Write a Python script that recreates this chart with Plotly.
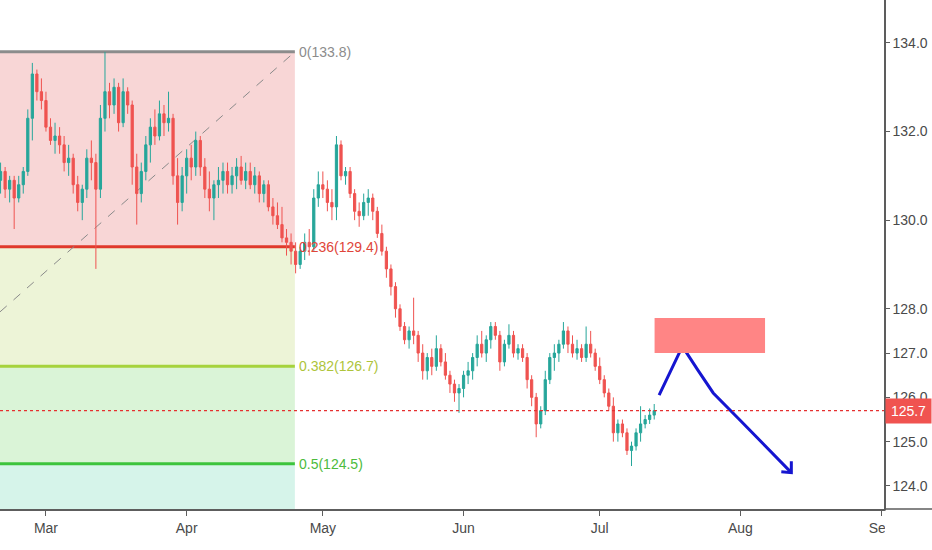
import pandas as pd
import plotly.graph_objects as go

# velas diarias
open_ = [130.9, 131.1, 130.7, 130.9, 130.5, 130.8, 131.1, 132.3, 133.3, 132.9,
         132.7, 132.1, 131.8, 131.9, 131.7, 131.3, 131.4, 130.8, 130.4, 130.7,
         131.4, 131.3, 130.7, 132.3, 132.9, 132.6, 133.0, 132.2, 132.9, 132.6,
         131.2, 130.6, 131.1, 131.7, 132.1, 131.9, 132.4, 132.2, 132.3, 131.0,
         130.4, 131.0, 131.4, 131.2, 131.8, 131.2, 130.7, 130.5, 130.8, 130.9,
         131.1, 130.8, 131.0, 131.2, 130.9, 131.1, 130.8, 131.0, 130.6, 130.8,
         130.3, 130.1, 129.9, 129.6, 129.5, 129.3, 129.0, 129.3, 129.5, 129.4,
         130.5, 130.8, 130.7, 130.4, 130.3, 131.7, 131.0, 131.1, 130.6, 130.2,
         130.1, 130.4, 130.5, 130.2, 129.7, 129.3, 128.9, 128.5, 128.0, 127.6,
         127.3, 127.5, 127.4, 127.0, 126.6, 126.9, 126.7, 127.1, 126.8, 126.5,
         126.3, 126.1, 126.2, 126.5, 126.6, 126.9, 127.2, 127.0, 127.3, 127.6,
         127.4, 126.8, 127.2, 127.4, 127.0, 127.1, 126.9, 126.4, 126.0, 125.4,
         125.7, 126.4, 126.9, 127.0, 127.2, 127.5, 127.2, 127.0, 127.1, 126.9,
         127.2, 127.0, 126.7, 126.4, 126.1, 125.8, 125.2, 125.4, 125.2, 124.8,
         124.9, 125.2, 125.4, 125.5, 125.6]
high = [131.3, 131.2, 131.0, 131.0, 131.0, 131.2, 132.5, 133.55, 133.4, 133.2,
        132.9, 132.3, 132.2, 132.1, 131.9, 131.7, 131.5, 131.0, 130.8, 131.6,
        131.8, 131.5, 132.6, 133.8, 133.1, 133.2, 133.1, 133.2, 133.0, 132.7,
        131.5, 131.3, 131.9, 132.3, 132.5, 132.7, 132.6, 132.9, 132.4, 131.4,
        131.2, 131.6, 131.7, 132.0, 131.9, 131.4, 131.1, 130.9, 131.2, 131.3,
        131.3, 131.2, 131.4, 131.45, 131.3, 131.3, 131.2, 131.1, 130.9, 130.9,
        130.5, 130.4, 130.3, 129.8, 129.7, 129.5, 129.4, 129.7, 129.8, 130.7,
        131.1, 131.1, 130.9, 130.7, 131.9, 131.8, 131.2, 131.2, 130.7, 130.4,
        130.6, 130.7, 130.6, 130.3, 129.9, 129.4, 129.0, 128.6, 128.1, 127.7,
        127.6, 128.25, 127.5, 127.2, 127.0, 127.1, 127.4, 127.2, 127.0, 126.6,
        126.4, 126.3, 126.6, 126.8, 127.0, 127.4, 127.5, 127.4, 127.7, 127.7,
        127.5, 127.3, 127.65, 127.5, 127.2, 127.2, 127.0, 126.5, 126.1, 125.8,
        126.6, 127.0, 127.2, 127.3, 127.7, 127.6, 127.4, 127.3, 127.2, 127.6,
        127.5, 127.1, 126.9, 126.5, 126.2, 126.0, 125.5, 125.5, 125.3, 125.0,
        125.3, 125.8, 125.6, 125.75, 125.85]
low = [130.6, 130.5, 130.4, 129.8, 130.4, 130.6, 131.0, 131.8, 132.7, 132.5,
       132.0, 131.7, 131.5, 131.5, 131.1, 131.0, 130.6, 130.2, 130.0, 130.5,
       130.9, 128.9, 130.5, 132.0, 132.3, 132.4, 132.0, 132.1, 132.4, 130.8,
       129.9, 130.4, 130.9, 131.3, 131.7, 131.8, 131.9, 132.0, 130.8, 129.9,
       130.2, 130.6, 130.9, 131.0, 131.0, 130.5, 130.2, 130.0, 130.5, 130.6,
       130.6, 130.6, 130.7, 130.8, 130.7, 130.7, 130.6, 130.4, 130.4, 130.2,
       129.9, 129.8, 129.5, 129.2, 129.0, 128.8, 128.9, 129.1, 129.2, 129.3,
       130.3, 130.5, 130.2, 130.0, 130.0, 130.9, 130.8, 130.5, 130.0, 129.85,
       130.0, 130.1, 130.0, 129.6, 129.2, 128.7, 128.3, 127.8, 127.5, 127.2,
       127.1, 127.2, 126.8, 126.4, 126.4, 126.5, 126.6, 126.7, 126.4, 126.1,
       125.9, 125.65, 126.0, 126.3, 126.4, 126.7, 126.9, 126.8, 127.1, 127.3,
       126.6, 126.7, 127.1, 126.9, 126.85, 126.8, 126.2, 125.8, 125.1, 125.3,
       125.6, 126.3, 126.6, 126.8, 127.1, 127.0, 126.9, 126.85, 126.8, 126.8,
       126.9, 126.6, 126.3, 126.0, 125.7, 125.0, 125.0, 125.1, 124.7, 124.45,
       124.8, 125.0, 125.3, 125.4, 125.5]
close = [131.1, 130.7, 130.9, 130.5, 130.8, 131.1, 132.3, 133.3, 132.9, 132.7,
         132.1, 131.8, 131.9, 131.7, 131.3, 131.4, 130.8, 130.4, 130.7, 131.4,
         131.3, 130.7, 132.3, 132.9, 132.6, 133.0, 132.2, 132.9, 132.6, 131.2,
         130.6, 131.1, 131.7, 132.1, 131.9, 132.4, 132.2, 132.3, 131.0, 130.4,
         131.0, 131.4, 131.2, 131.8, 131.2, 130.7, 130.5, 130.8, 130.9, 131.1,
         130.8, 131.0, 131.2, 130.9, 131.1, 130.8, 131.0, 130.6, 130.8, 130.3,
         130.1, 129.9, 129.6, 129.5, 129.3, 129.0, 129.3, 129.5, 129.4, 130.5,
         130.8, 130.7, 130.4, 130.3, 131.7, 131.0, 131.1, 130.6, 130.2, 130.1,
         130.4, 130.5, 130.2, 129.7, 129.3, 128.9, 128.5, 128.0, 127.6, 127.3,
         127.5, 127.4, 127.0, 126.6, 126.9, 126.7, 127.1, 126.8, 126.5, 126.3,
         126.1, 126.2, 126.5, 126.6, 126.9, 127.2, 127.0, 127.3, 127.6, 127.4,
         126.8, 127.2, 127.4, 127.0, 127.1, 126.9, 126.4, 126.0, 125.4, 125.7,
         126.4, 126.9, 127.0, 127.2, 127.5, 127.2, 127.0, 127.1, 126.9, 127.2,
         127.0, 126.7, 126.4, 126.1, 125.8, 125.2, 125.4, 125.2, 124.8, 124.9,
         125.2, 125.4, 125.5, 125.6, 125.7]
dates = pd.date_range("2019-02-19", periods=len(close), freq="D")

# retroceso de Fibonacci
fib_names = ["0", "0.236", "0.382", "0.5"]
fib_prices = [133.8, 129.4, 126.7, 124.5]
fib_618 = 122.3
fib_end = "2019-04-24 20:00"
last_price = 125.7

# zona de venta y proyeccion
zone_x = ["2019-07-13 02:00", "2019-08-06 10:00"]
zone_y = [127.0, 127.79]
proj_x = ["2019-07-14 02:00", "2019-07-19 05:00", "2019-07-22 14:00", "2019-07-26 00:00",
          "2019-07-31 21:00", "2019-08-06 14:00", "2019-08-12 05:00"]
proj_y = [126.05, 127.15, 126.62, 126.10, 125.49, 124.88, 124.30]
head_x = ["2019-08-10 00:00", "2019-08-12 05:00", "2019-08-12 05:00"]
head_y = [124.32, 124.30, 124.56]

FONT = "Liberation Sans, Arial, sans-serif"

fig = go.Figure()
fig.add_trace(go.Candlestick(
    x=dates, open=open_, high=high, low=low, close=close,
    increasing=dict(line=dict(color="#26a69a", width=1), fillcolor="#26a69a"),
    decreasing=dict(line=dict(color="#ef5350", width=1), fillcolor="#ef5350"),
    showlegend=False, hoverinfo="skip"))

fig.add_trace(go.Scatter(x=proj_x, y=proj_y, mode="lines",
                         line=dict(color="#1515d0", width=3), showlegend=False, hoverinfo="skip"))
fig.add_trace(go.Scatter(x=head_x, y=head_y, mode="lines",
                         line=dict(color="#1515d0", width=3), showlegend=False, hoverinfo="skip"))

shapes = []
zone_fill = ["#f8d6d6", "#edf4d7", "#daf4d7", "#d6f4ea"]
bounds = fib_prices + [fib_618]
for i in range(4):
    shapes.append(dict(type="rect", xref="x", yref="y", x0="2019-02-10", x1=fib_end,
                       y0=bounds[i + 1], y1=bounds[i], fillcolor=zone_fill[i],
                       line=dict(width=0), layer="below"))
line_cols = ["#8c8c8c", "#e0392b", "#a6d23c", "#3cc43c"]
text_cols = ["#8c8c8c", "#e0453a", "#aec43a", "#4cbb3c"]
for p, c in zip(fib_prices, line_cols):
    shapes.append(dict(type="line", xref="x", yref="y", x0="2019-02-10", x1=fib_end,
                       y0=p, y1=p, line=dict(color=c, width=3), layer="below"))
# diagonal punteada
shapes.append(dict(type="line", xref="x", yref="y", x0="2019-02-18 21:00", y0=127.93,
                   x1=fib_end, y1=133.8, line=dict(color="#8a8a8a", width=1, dash="dash"),
                   layer="below"))
# precio actual
shapes.append(dict(type="line", xref="paper", yref="y", x0=0, x1=1, y0=last_price,
                   y1=last_price, line=dict(color="#e53030", width=1.2, dash="dot")))
# zona roja
shapes.append(dict(type="rect", xref="x", yref="y", x0=zone_x[0], x1=zone_x[1],
                   y0=zone_y[0], y1=zone_y[1], fillcolor="#ff8585", line=dict(width=0)))
# tapa etiqueta Sep y linea del eje
shapes.append(dict(type="rect", xref="paper", yref="paper", x0=1.001, x1=1.06, y0=-0.1, y1=-0.003,
                   fillcolor="white", line=dict(width=0), layer="above"))
shapes.append(dict(type="line", xref="paper", yref="paper", x0=1, x1=1.06, y0=0, y1=0,
                   line=dict(color="#5d5d5d", width=1.5), layer="above"))

annotations = []
for n, p, c in zip(fib_names, fib_prices, text_cols):
    annotations.append(dict(x=fib_end, y=p, xref="x", yref="y", xanchor="left", yanchor="middle",
                            xshift=2, text=f"{n}({p:.1f})", showarrow=False,
                            font=dict(family=FONT, size=14, color=c)))
annotations.append(dict(x=1, y=last_price, xref="paper", yref="y", xanchor="left",
                        yanchor="middle", xshift=1, text=f"{last_price:.1f}", showarrow=False,
                        bgcolor="#f05350", width=43, height=22, borderpad=1,
                        font=dict(family=FONT, size=14, color="white")))

fig.update_layout(
    width=932, height=550,
    margin=dict(l=0, r=48, t=0, b=41, autoexpand=False),
    paper_bgcolor="white", plot_bgcolor="white",
    shapes=shapes, annotations=annotations,
    font=dict(family=FONT, size=14, color="#4a4a4a"),
    xaxis=dict(type="date", range=["2019-02-18 21:00", "2019-09-01 15:00"],
               rangeslider=dict(visible=False), dtick="M1", tickformat="%b",
               ticks="outside", ticklen=5, tickcolor="#5d5d5d", showgrid=False,
               showline=True, linecolor="#5d5d5d", linewidth=1.5, zeroline=False),
    yaxis=dict(side="right", range=[123.48, 134.97],
               tickvals=[124, 125, 126, 127, 128, 130, 132, 134], tickformat=".1f",
               ticks="outside", ticklen=4, tickcolor="#5d5d5d", showgrid=False,
               showline=True, linecolor="#5d5d5d", linewidth=1.5, zeroline=False),
)

fig.write_html("out.html", config={"displayModeBar": False},
               post_script="document.body.style.margin='0px';")
